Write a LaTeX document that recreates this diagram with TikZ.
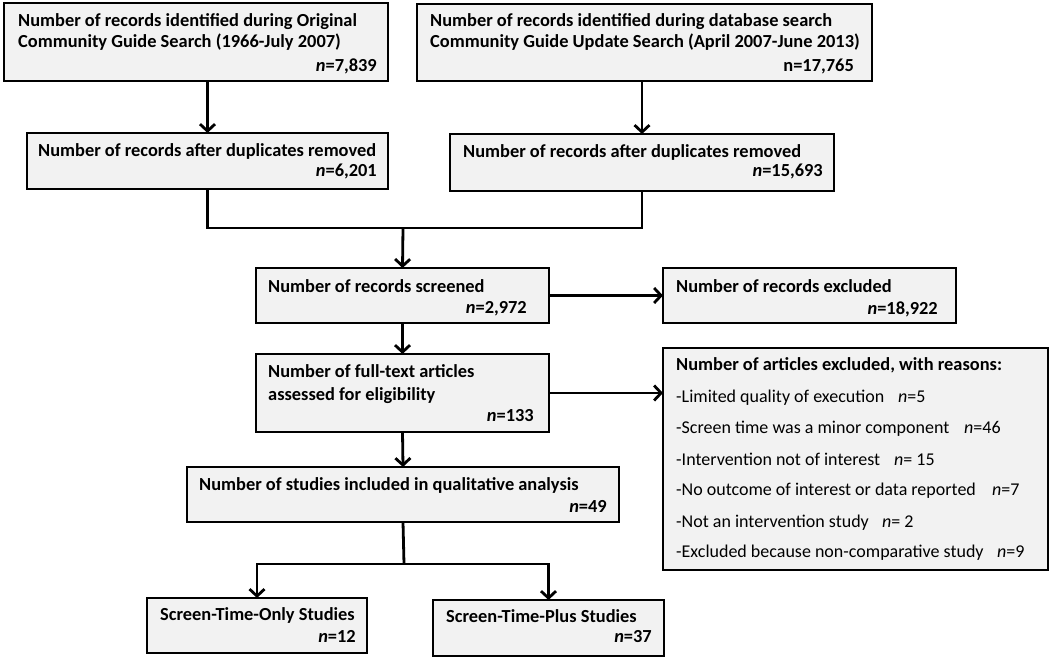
\documentclass[tikz,border=0pt]{standalone}
\usepackage{fontspec}
\setmainfont{Carlito}
\usetikzlibrary{arrows.meta,calc}
\definecolor{boxgray}{HTML}{F2F2F2}
\begin{document}
\begin{tikzpicture}[x=1pt,y=-1pt,
 box/.style={draw=black,line width=2pt,fill=boxgray,anchor=north west,inner sep=0pt,outer sep=0pt},
 bt/.style={anchor=base west,inner sep=0pt,font=\fontsize{18.4}{22}\selectfont\bfseries},
 bn/.style={anchor=base east,inner sep=0pt,font=\fontsize{18.4}{22}\selectfont\bfseries},
 rt/.style={anchor=base west,inner sep=0pt,font=\fontsize{18}{22}\selectfont},
 arr/.style={line width=2.8pt,-{Straight Barb[length=7pt,width=15pt]}},
 ln/.style={line width=2.8pt}]
\useasboundingbox (0,0) rectangle (1050,658);
% boxes
\node[box,minimum width=384pt,minimum height=78pt] (A) at (4,3) {};
\node[box,minimum width=455pt,minimum height=77pt] (B) at (417,4) {};
\node[box,minimum width=361pt,minimum height=56pt] (C) at (27,133) {};
\node[box,minimum width=384pt,minimum height=57pt] (D) at (450,134) {};
\node[box,minimum width=293pt,minimum height=55pt] (E) at (256,268) {};
\node[box,minimum width=293pt,minimum height=78pt] (F) at (256,354) {};
\node[box,minimum width=293pt,minimum height=55pt] (X1) at (663,268) {};
\node[box,minimum width=385pt,minimum height=222pt] (X2) at (663,348) {};
\node[box,minimum width=432pt,minimum height=55pt] (H) at (187,467) {};
\node[box,minimum width=220pt,minimum height=55pt] (I) at (147,598) {};
\node[box,minimum width=231pt,minimum height=56pt] (J) at (433,600) {};
% texts
\node[bt] (A1) at ($(A.north west)+(14,24)$) {Number of records identified during Original};
\node[bt] (A2) at ($(A.north west)+(14,45)$) {Community Guide Search (1966-July 2007)};
\node[bn] (An) at ($(A.north east)+(-11,69)$) {\textit{n}=7,839};
\node[bt] (B1) at ($(B.north west)+(13,23)$) {Number of records identified during database search};
\node[bt] (B2) at ($(B.north west)+(13,44)$) {Community Guide Update Search (April 2007-June 2013)};
\node[bn] (Bn) at ($(B.north east)+(-18,68)$) {n=17,765};
\node[bt] (C1) at ($(C.north west)+(11,24)$) {Number of records after duplicates removed};
\node[bn] (Cn) at ($(C.north east)+(-11,43)$) {\textit{n}=6,201};
\node[bt] (D1) at ($(D.north west)+(13,24)$) {Number of records after duplicates removed};
\node[bn] (Dn) at ($(D.north east)+(-11,43)$) {\textit{n}=15,693};
\node[bt] (E1) at ($(E.north west)+(12,24)$) {Number of records screened};
\node[bn] (En) at ($(E.north east)+(-22,45)$) {\textit{n}=2,972};
\node[bt] (F1) at ($(F.north west)+(12,23)$) {Number of full-text articles};
\node[bt] (F2) at ($(F.north west)+(12,46)$) {assessed for eligibility};
\node[bn] (Fn) at ($(F.north east)+(-15,67)$) {\textit{n}=133};
\node[bt] (X11) at ($(X1.north west)+(13,24)$) {Number of records excluded};
\node[bn] (X1n) at ($(X1.north east)+(-18,46)$) {\textit{n}=18,922};
\node[bt] (X21) at ($(X2.north west)+(13,22)$) {Number of articles excluded, with reasons:};
\node[rt] (R1) at ($(X2.north west)+(13,54)$) {-Limited quality of execution};
\node[rt] (R1n) at (898,402) {\textit{n}=5};
\node[rt] (R2) at ($(X2.north west)+(13,85)$) {-Screen time was a minor component};
\node[rt] (R2n) at (964,433) {\textit{n}=46};
\node[rt] (R3) at ($(X2.north west)+(13,117)$) {-Intervention not of interest};
\node[rt] (R3n) at (894,465) {\textit{n}= 15};
\node[rt] (R4) at ($(X2.north west)+(13,147)$) {-No outcome of interest or data reported};
\node[rt] (R4n) at (992,495) {\textit{n}=7};
\node[rt] (R5) at ($(X2.north west)+(13,179)$) {-Not an intervention study};
\node[rt] (R5n) at (882,527) {\textit{n}= 2};
\node[rt] (R6) at ($(X2.north west)+(13,209)$) {-Excluded because non-comparative study};
\node[rt] (R6n) at (997,557) {\textit{n}=9};
\node[bt] (H1) at ($(H.north west)+(12,23)$) {Number of studies included in qualitative analysis};
\node[bn] (Hn) at ($(H.north east)+(-12,45)$) {\textit{n}=49};
\node[bt] (I1) at ($(I.north west)+(13,22)$) {Screen-Time-Only Studies};
\node[bn] (In) at ($(I.north east)+(-11,44)$) {\textit{n}=12};
\node[bt] (J1) at ($(J.north west)+(13,22)$) {Screen-Time-Plus Studies};
\node[bn] (Jn) at ($(J.north east)+(-12,42)$) {\textit{n}=37};
% connectors
\coordinate (m) at (403,228);
\coordinate (s) at (404,564);
\draw[arr] (C.north |- A.south) -- (C.north);
\draw[arr] (D.north |- B.south) -- (D.north);
\draw[ln] (C.south) -- (C.south |- m) -- (D.south |- m) -- (D.south);
\draw[arr] (m) -- (E.north);
\draw[arr] (E.south) -- (F.north);
\draw[arr] (E.east) -- (X1.west);
\draw[arr] (F.east) -- (F.east -| X2.west);
\draw[arr] (F.south) -- (H.north);
\draw[ln] (H.south) -- (s);
\draw[arr] (s) -| (I.north);
\draw[arr] (s) -| (J.north);
\end{tikzpicture}
\end{document}
